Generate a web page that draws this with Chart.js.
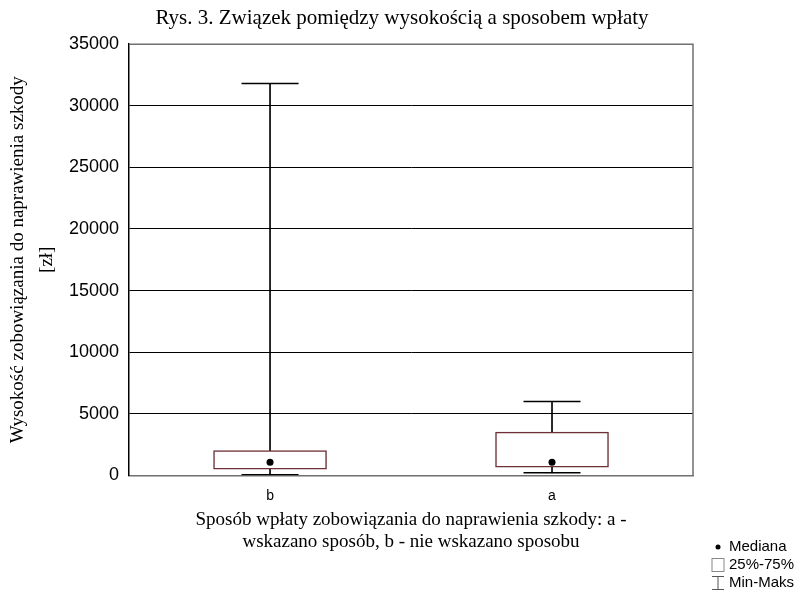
<!DOCTYPE html>
<html lang="pl">
<head>
    <meta charset="UTF-8">
    <script src="https://cdn.jsdelivr.net/npm/chart.js@4.4.1/dist/chart.umd.min.js"></script>
    <title>Rys. 3</title>
    <style>
        body { margin: 0; background: #fff; }
        #wrap { width: 804px; height: 592px; }
    </style>
</head>
<body>
    <div id="wrap"><canvas id="chart"></canvas></div>

    <script>
        const categories = ['b', 'a'];
        const minValues = [50, 200];
        const q1Values = [500, 650];
        const medianValues = [1050, 1050];
        const q3Values = [2000, 3500];
        const maxValues = [31800, 6000];
        const yTicks = [0, 5000, 10000, 15000, 20000, 25000, 30000, 35000];

        const boxColor = '#6e3038';
        const serif = '"Liberation Serif", "Times New Roman", serif';
        const sans = '"Liberation Sans", Arial, sans-serif';

        // ramka (górna i prawa krawędź) + legenda w prawym dolnym rogu
        const extras = {
            id: 'extras',
            afterDraw(chart) {
                const { ctx, chartArea: a } = chart;
                ctx.save();
                ctx.strokeStyle = '#707070';
                ctx.lineWidth = 1.5;
                ctx.beginPath();
                ctx.moveTo(a.left, a.top);
                ctx.lineTo(a.right, a.top);
                ctx.lineTo(a.right, a.bottom);
                ctx.stroke();

                const x = 718, y0 = 547, dy = 18;
                ctx.fillStyle = '#000';
                ctx.lineWidth = 1;
                ctx.beginPath();
                ctx.arc(x, y0, 2.5, 0, Math.PI * 2);
                ctx.fill();
                ctx.strokeStyle = '#888';
                ctx.strokeRect(x - 6, y0 + dy - 6.5, 12, 13);
                ctx.strokeStyle = '#555';
                ctx.beginPath();
                ctx.moveTo(x - 6, y0 + 2 * dy - 6.5); ctx.lineTo(x + 6, y0 + 2 * dy - 6.5);
                ctx.moveTo(x, y0 + 2 * dy - 6.5); ctx.lineTo(x, y0 + 2 * dy + 6.5);
                ctx.moveTo(x - 6, y0 + 2 * dy + 6.5); ctx.lineTo(x + 6, y0 + 2 * dy + 6.5);
                ctx.stroke();

                ctx.fillStyle = '#000';
                ctx.font = '15px ' + sans;
                ctx.textBaseline = 'middle';
                ctx.fillText('Mediana', x + 11, y0);
                ctx.fillText('25%-75%', x + 11, y0 + dy);
                ctx.fillText('Min-Maks', x + 11, y0 + 2 * dy);
                ctx.restore();
            }
        };

        new Chart(document.getElementById('chart'), {
            type: 'bar',
            data: {
                labels: categories,
                datasets: [
                    {
                        label: 'Min-Maks',
                        data: minValues.map((v, i) => [v, maxValues[i]]),
                        backgroundColor: '#000',
                        borderWidth: 0,
                        barThickness: 1,
                        grouped: false,
                        order: 3
                    },
                    {
                        label: '25%-75%',
                        data: q1Values.map((v, i) => [v, q3Values[i]]),
                        backgroundColor: '#fff',
                        borderColor: boxColor,
                        borderWidth: 1.5,
                        borderSkipped: false,
                        barThickness: 113,
                        grouped: false,
                        order: 2
                    },
                    {
                        type: 'line',
                        label: 'Min',
                        data: minValues,
                        showLine: false,
                        pointStyle: 'line',
                        pointRadius: 28.5,
                        borderColor: '#000',
                        borderWidth: 1.5,
                        order: 1
                    },
                    {
                        type: 'line',
                        label: 'Maks',
                        data: maxValues,
                        showLine: false,
                        pointStyle: 'line',
                        pointRadius: 28.5,
                        borderColor: '#000',
                        borderWidth: 1.5,
                        order: 1
                    },
                    {
                        type: 'line',
                        label: 'Mediana',
                        data: medianValues,
                        showLine: false,
                        pointStyle: 'circle',
                        pointRadius: 3.5,
                        backgroundColor: '#000',
                        borderColor: '#000',
                        borderWidth: 0,
                        order: 0
                    }
                ]
            },
            options: {
                responsive: true,
                maintainAspectRatio: false,
                animation: false,
                layout: { padding: { top: 4, right: 0, bottom: 39, left: 0 } },
                plugins: {
                    legend: { display: false },
                    tooltip: { enabled: false },
                    title: {
                        display: true,
                        text: 'Rys. 3. Związek pomiędzy wysokością a sposobem wpłaty',
                        color: '#000',
                        font: { family: serif, size: 21, weight: 'normal' },
                        padding: { top: 2, bottom: 13 }
                    }
                },
                scales: {
                    x: {
                        offset: true,
                        grid: { display: false, drawTicks: false },
                        border: { color: '#707070', width: 1.5 },
                        ticks: {
                            color: '#000',
                            padding: 14,
                            font: { family: sans, size: 14, lineHeight: 1 }
                        },
                        title: {
                            display: true,
                            text: ['Sposób wpłaty zobowiązania do naprawienia szkody: a -', 'wskazano sposób, b - nie wskazano sposobu'],
                            color: '#000',
                            font: { family: serif, size: 19, lineHeight: 1.15 },
                            padding: { top: -8, bottom: 0 }
                        }
                    },
                    y: {
                        min: 0,
                        max: 35000,
                        afterBuildTicks: (axis) => { axis.ticks = yTicks.map(v => ({ value: v })); },
                        grid: { color: '#000', lineWidth: 1, drawTicks: false },
                        border: { color: '#000', width: 1.5 },
                        ticks: {
                            color: '#000',
                            padding: 10,
                            font: { family: sans, size: 18 },
                            callback: (v) => String(v)
                        },
                        title: {
                            display: true,
                            text: ['Wysokość zobowiązania do naprawienia szkody', '[zł]'],
                            color: '#000',
                            font: { family: serif, size: 19, lineHeight: 1.5 },
                            padding: { top: 4, bottom: -2 }
                        }
                    },
                    // pusty pas po prawej stronie (miejsce na legendę)
                    side: {
                        position: 'right',
                        grid: { display: false, drawTicks: false },
                        border: { display: false },
                        ticks: { display: false },
                        afterFit: (scale) => { scale.width = 111; }
                    }
                }
            },
            plugins: [extras]
        });
    </script>
</body>
</html>
